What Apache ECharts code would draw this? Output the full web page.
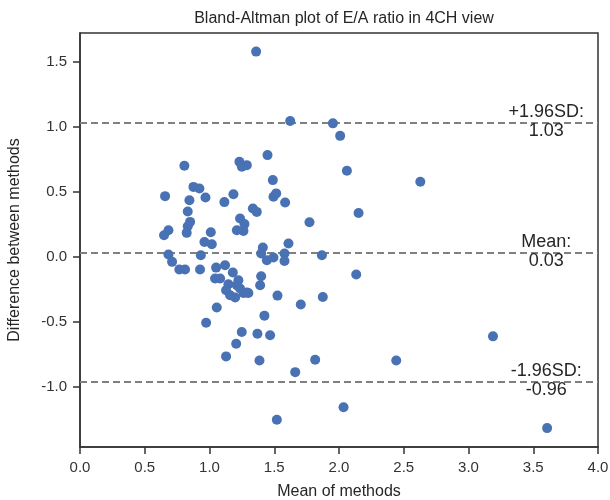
<!DOCTYPE html>
<html>
<head>
    <meta charset="utf-8">
    <title>Bland-Altman</title>
    <script src="https://cdn.jsdelivr.net/npm/echarts@6/dist/echarts.min.js"></script>
</head>
<body style="margin:0">
    <div id="main" style="width: 610px;height:500px;"></div>
    <script type="text/javascript">
        // mean of the two methods / difference between them
        var meanVals = [1.36, 1.623, 1.953, 2.009, 2.061, 2.628, 2.151, 1.772, 0.806, 1.231,
            1.25, 1.288, 1.448, 0.876, 0.922, 0.657, 0.845, 0.969, 1.115, 1.185,
            1.489, 1.494, 1.515, 1.584, 0.832, 1.335, 1.365, 0.85, 0.832, 0.683,
            0.649, 0.824, 1.01, 1.236, 1.27, 1.211, 1.262, 0.961, 1.018, 1.61,
            0.683, 0.711, 0.933, 1.412, 1.399, 1.443, 1.494, 1.579, 1.579, 1.868,
            0.767, 0.811, 0.927, 1.051, 1.12, 1.043, 1.082, 1.18, 1.223, 1.146,
            1.128, 1.211, 1.236, 1.159, 1.198, 1.288, 1.262, 1.3, 1.399, 1.391,
            1.525, 1.875, 1.705, 2.133, 1.056, 0.974, 1.424, 1.249, 1.37, 1.468,
            1.206, 1.128, 1.386, 1.662, 1.816, 2.442, 3.189, 1.52, 2.035, 3.607];
        var diffVals = [1.577, 1.044, 1.026, 0.93, 0.662, 0.577, 0.338, 0.267, 0.70, 0.731,
            0.692, 0.705, 0.782, 0.538, 0.526, 0.467, 0.436, 0.457, 0.421, 0.482,
            0.59, 0.462, 0.488, 0.418, 0.349, 0.372, 0.346, 0.269, 0.236, 0.205,
            0.167, 0.185, 0.19, 0.295, 0.252, 0.205, 0.20, 0.115, 0.098, 0.103,
            0.018, -0.038, 0.013, 0.072, 0.026, -0.025, -0.005, 0.026, -0.031, 0.013,
            -0.097, -0.097, -0.097, -0.082, -0.064, -0.166, -0.166, -0.12, -0.179, -0.21,
            -0.256, -0.218, -0.243, -0.295, -0.312, -0.274, -0.277, -0.277, -0.148, -0.218,
            -0.297, -0.308, -0.366, -0.135, -0.389, -0.505, -0.451, -0.577, -0.59, -0.602,
            -0.667, -0.764, -0.795, -0.885, -0.79, -0.795, -0.61, -1.251, -1.154, -1.315];

        var limitVals = [1.03, 0.03, -0.96];
        var limitNames = ['+1.96SD:', 'Mean:', '-1.96SD:'];
        var xTicks = [0.0, 0.5, 1.0, 1.5, 2.0, 2.5, 3.0, 3.5, 4.0];
        var yTicks = [-1.0, -0.5, 0.0, 0.5, 1.0, 1.5];

        var points = meanVals.map(function (m, i) { return [m, diffVals[i]]; });
        var labelX = 3.6;

        var myChart = echarts.init(document.getElementById('main'));
        var txt = '#333333';
        var option = {
            backgroundColor: '#ffffff',
            textStyle: { fontFamily: 'Liberation Sans, Arial, sans-serif' },
            title: {
                text: 'Bland-Altman plot of E/A ratio in 4CH view',
                left: 339, top: 6, textAlign: 'center',
                textStyle: { fontWeight: 'normal', fontSize: 16, color: '#262626' }
            },
            grid: {
                left: 80, right: 12, top: 33, bottom: 53,
                outerBoundsMode: 'none',
                show: true, borderColor: '#333', borderWidth: 1.5
            },
            xAxis: {
                type: 'value', min: 0, max: 4, interval: 0.5,
                name: 'Mean of methods', nameLocation: 'middle', nameGap: 37,
                nameTextStyle: { fontSize: 16, color: '#262626' },
                axisLine: { show: true, onZero: false, lineStyle: { color: '#333', width: 1.5 } },
                axisTick: { show: true, length: 7, lineStyle: { color: '#333', width: 1.5 } },
                axisLabel: {
                    fontSize: 15, color: txt, margin: 13,
                    customValues: xTicks,
                    formatter: function (v) { return v.toFixed(1); }
                },
                splitLine: { show: false }
            },
            yAxis: {
                type: 'value', min: -1.46, max: 1.72,
                name: 'Difference between methods', nameLocation: 'middle', nameGap: 57,
                nameTextStyle: { fontSize: 16, color: '#262626' },
                axisLine: { show: true, onZero: false, lineStyle: { color: '#333', width: 1.5 } },
                axisTick: { show: true, length: 7, customValues: yTicks, lineStyle: { color: '#333', width: 1.5 } },
                axisLabel: {
                    fontSize: 15, color: txt, margin: 13,
                    customValues: yTicks,
                    formatter: function (v) { return v.toFixed(1); }
                },
                splitLine: { show: false }
            },
            series: [{
                type: 'scatter',
                data: points,
                symbolSize: 10,
                itemStyle: { color: '#4872b4', opacity: 1 },
                z: 3,
                markLine: {
                    silent: true,
                    symbol: ['none', 'none'],
                    lineStyle: { color: '#808080', type: [7, 4], width: 2 },
                    label: { show: false },
                    data: limitVals.map(function (v) { return { yAxis: v }; }),
                    z: 2
                },
                markPoint: {
                    silent: true,
                    symbol: 'circle', symbolSize: 0,
                    label: {
                        show: true, position: 'inside', fontSize: 18, color: '#262626',
                        lineHeight: 19, align: 'center', verticalAlign: 'middle', offset: [0, -1]
                    },
                    data: limitVals.map(function (v, i) {
                        return {
                            coord: [labelX, v],
                            label: { formatter: limitNames[i] + '\n' + v.toFixed(2) }
                        };
                    })
                }
            }]
        };
        myChart.setOption(option);
    </script>
</body>
</html>
